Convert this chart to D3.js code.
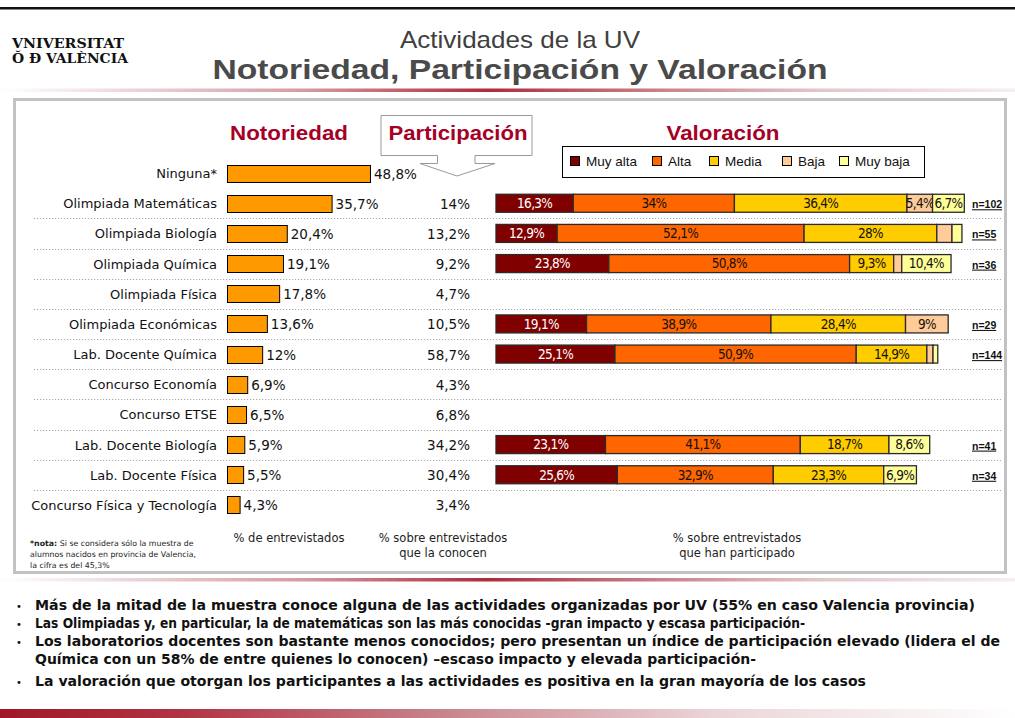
<!DOCTYPE html>
<html><head><meta charset="utf-8">
<script src="https://cdn.jsdelivr.net/npm/d3@7"></script>
<style>body{margin:0;background:#fff}svg{display:block}</style>
</head><body><svg id="c" width="1015" height="718"></svg>
<script>
// ---------- DATA ----------
const categories = ["Ninguna*","Olimpiada Matemáticas","Olimpiada Biología","Olimpiada Química","Olimpiada Física","Olimpiada Económicas","Lab. Docente Química","Concurso Economía","Concurso ETSE","Lab. Docente Biología","Lab. Docente Física","Concurso Física y Tecnología"];
const notoriedad = [48.8,35.7,20.4,19.1,17.8,13.6,12,6.9,6.5,5.9,5.5,4.3];
const participacion = [null,14,13.2,9.2,4.7,10.5,58.7,4.3,6.8,34.2,30.4,3.4];

const valCategories = ["Olimpiada Matemáticas","Olimpiada Biología","Olimpiada Química","Olimpiada Económicas","Lab. Docente Química","Lab. Docente Biología","Lab. Docente Física"];
const muyAlta = [16.3,12.9,23.8,19.1,25.1,23.1,25.6];
const alta    = [34,52.1,50.8,38.9,50.9,41.1,32.9];
const media   = [36.4,28,9.3,28.4,14.9,18.7,23.3];
const baja    = [5.4,3.2,1.7,9,1.3,0,0];
const muyBaja = [6.7,2.1,10.4,0,1.0,8.6,6.9];
const nValues = [102,55,36,29,144,41,34];

const levels = ["Muy alta","Alta","Media","Baja","Muy baja"];
const levelColors = ["#800000","#ff6600","#ffcc00","#ffcc99","#ffff99"];

const footerLabels = [["% de entrevistados"],["% sobre entrevistados","que la conocen"],["% sobre entrevistados","que han participado"]];
const noteLines = ["Si se considera sólo la muestra de","alumnos nacidos en provincia de Valencia,","la cifra es del 45,3%"];
const bullets = [
 ["Más de la mitad de la muestra conoce alguna de las actividades organizadas por UV (55% en caso Valencia provincia)"],
 ["Las Olimpiadas y, en particular, la de matemáticas son las más conocidas -gran impacto y escasa participación-"],
 ["Los laboratorios docentes son bastante menos conocidos; pero presentan un índice de participación elevado (lidera el de","Química con un 58% de entre quienes lo conocen) –escaso impacto y elevada participación-"],
 ["La valoración que otorgan los participantes a las actividades es positiva en la gran mayoría de los casos"]
];

// ---------- DRAW ----------
const svg = d3.select("#c");
const fmt = v => (Number.isInteger(v) ? String(v) : v.toFixed(1).replace(".", ",")) + "%";
const SANS = "'DejaVu Sans', Verdana, sans-serif";
const ARIAL = "'Liberation Sans', Arial, sans-serif";
const RED = "#a50026";

const defs = svg.append("defs");
const g1 = defs.append("linearGradient").attr("id","lineGrad");
[[0,"#ffffff"],[0.08,"#f3e6e8"],[0.3,"#d49aa2"],[0.48,"#b02a3a"],[0.6,"#c06a75"],[0.8,"#e2c4c8"],[1,"#f6eeef"]]
 .forEach(([o,c])=>g1.append("stop").attr("offset",o).attr("stop-color",c));
const g2 = defs.append("linearGradient").attr("id","barGrad");
[[0,"#a01828"],[0.18,"#b03444"],[0.45,"#c98890"],[0.7,"#ead4d7"],[1,"#ffffff"]]
 .forEach(([o,c])=>g2.append("stop").attr("offset",o).attr("stop-color",c));

// top rule
svg.append("rect").attr("x",0).attr("y",7).attr("width",1015).attr("height",2.5).attr("fill","#111");

// logo
svg.append("text").attr("x",12).attr("y",48).attr("font-family","'DejaVu Serif', serif").attr("font-weight","bold")
 .attr("font-size",12.5).attr("textLength",112).attr("lengthAdjust","spacingAndGlyphs").attr("fill","#111").text("VNIVERSITAT");
svg.append("text").attr("x",12).attr("y",63).attr("font-family","'DejaVu Serif', serif").attr("font-weight","bold")
 .attr("font-size",12.5).attr("textLength",116).attr("lengthAdjust","spacingAndGlyphs").attr("fill","#111").text("Ŏ Ð VALÈNCIA");

// titles
svg.append("text").attr("x",520).attr("y",48).attr("text-anchor","middle").attr("font-family",ARIAL)
 .attr("font-size",24).attr("fill","#404040").attr("textLength",240).attr("lengthAdjust","spacingAndGlyphs").text("Actividades de la UV");
svg.append("text").attr("x",520).attr("y",79).attr("text-anchor","middle").attr("font-family",ARIAL)
 .attr("font-weight","bold").attr("font-size",28).attr("fill","#4a4a4a").attr("textLength",615).attr("lengthAdjust","spacingAndGlyphs")
 .text("Notoriedad, Participación y Valoración");

// gradient rules
svg.append("rect").attr("x",0).attr("y",88.5).attr("width",1015).attr("height",3.5).attr("fill","url(#lineGrad)");
svg.append("rect").attr("x",0).attr("y",578).attr("width",1015).attr("height",3.5).attr("fill","url(#lineGrad)");
svg.append("rect").attr("x",0).attr("y",709).attr("width",1015).attr("height",9).attr("fill","url(#barGrad)");

// frame
svg.append("rect").attr("x",14.5).attr("y",99.5).attr("width",991).attr("height",473)
 .attr("fill","#fff").attr("stroke","#c2c2c2").attr("stroke-width",3);

// section headers
const hdr = (x,t,w)=>svg.append("text").attr("x",x).attr("y",140).attr("text-anchor","middle").attr("font-family",ARIAL)
 .attr("font-weight","bold").attr("font-size",21).attr("fill",RED).attr("textLength",w).attr("lengthAdjust","spacingAndGlyphs").text(t);
hdr(289,"Notoriedad",118);
svg.append("path").attr("d","M381,115.5H532V155.5H475V163.5H495L457,176L420,163.5H437.5V155.5H381Z")
 .attr("fill","#fff").attr("stroke","#9a9a9a").attr("stroke-width",1);
hdr(458,"Participación",139);
hdr(723,"Valoración",113);

// legend
const lg = svg.append("g");
lg.append("rect").attr("x",562.5).attr("y",146.5).attr("width",362).attr("height",31).attr("fill","#fff").attr("stroke","#000");
const legX = [570,652,709,782,839];
levels.forEach((l,i)=>{
  lg.append("rect").attr("x",legX[i]+0.5).attr("y",156.5).attr("width",9).attr("height",9).attr("fill",levelColors[i]).attr("stroke","#000");
  lg.append("text").attr("x",legX[i]+16).attr("y",166).attr("font-family",ARIAL).attr("font-size",13.5).attr("fill","#111").text(l);
});

// scales
const y = d3.scaleBand().domain(categories).range([158,520]);
const xN = d3.scaleLinear().domain([0,100]).range([227,520]);
const xV = d3.scaleLinear().domain([0,100]).range([496,970]);
const cy = c => y(c) + y.bandwidth()/2;

// dotted separators
categories.slice(1, categories.length-1).forEach(c=>{
  const yy = Math.round(y(c)+y.bandwidth()) + 0.5;
  svg.append("line").attr("x1",34).attr("x2",1001).attr("y1",yy).attr("y2",yy)
   .attr("stroke","#a8a8a8").attr("stroke-width",1.2).attr("stroke-dasharray","1.2,1.8");
});

// category labels
svg.append("g").selectAll("text").data(categories).join("text")
 .attr("x",217).attr("y",c=>cy(c)+5).attr("text-anchor","end")
 .attr("font-family",SANS).attr("font-size",13).attr("fill","#111").text(c=>c);

// notoriedad bars
svg.append("g").selectAll("rect").data(notoriedad).join("rect")
 .attr("x",xN(0)+0.5).attr("y",(d,i)=>Math.round(cy(categories[i])-8.5)+0.5)
 .attr("width",d=>xN(d)-xN(0)).attr("height",17)
 .attr("fill","#ff9900").attr("stroke","#000").attr("stroke-width",1);
svg.append("g").selectAll("text").data(notoriedad).join("text")
 .attr("x",d=>xN(d)+4).attr("y",(d,i)=>cy(categories[i])+5.5)
 .attr("font-family",SANS).attr("font-size",13.5).attr("fill","#111").text(d=>fmt(d));

// participacion values
svg.append("g").selectAll("text").data(participacion.map((v,i)=>({v,c:categories[i]})).filter(d=>d.v!=null)).join("text")
 .attr("x",470).attr("y",d=>cy(d.c)+5.5).attr("text-anchor","end")
 .attr("font-family",SANS).attr("font-size",13.5).attr("fill","#111").text(d=>fmt(d.v));

// valoracion stacked bars
const table = valCategories.map((c,i)=>({cat:c,"Muy alta":muyAlta[i],"Alta":alta[i],"Media":media[i],"Baja":baja[i],"Muy baja":muyBaja[i]}));
const series = d3.stack().keys(levels)(table);
const vg = svg.append("g");
series.forEach((s,k)=>{
  s.forEach(seg=>{
    const v = seg[1]-seg[0];
    if (v <= 0) return;
    const c = seg.data.cat, yc = cy(c);
    vg.append("rect").attr("x",xV(seg[0])).attr("y",yc-9).attr("width",xV(seg[1])-xV(seg[0])).attr("height",18)
      .attr("fill",levelColors[k]).attr("stroke","#2a2a2a").attr("stroke-width",1.3);
    if (v >= 5) {
      vg.append("text").attr("x",(xV(seg[0])+xV(seg[1]))/2).attr("y",yc+4.8).attr("text-anchor","middle")
        .attr("font-family","'DejaVu Sans Condensed', 'DejaVu Sans', sans-serif").attr("font-size",13.5)
        .attr("letter-spacing",-0.7).attr("fill",k===0?"#fff":"#111").text(fmt(v));
    }
  });
});
// n labels
svg.append("g").selectAll("text").data(valCategories).join("text")
 .attr("x",972).attr("y",(c)=>cy(c)+5).attr("font-family",ARIAL)
 .attr("font-weight","bold").attr("font-size",10.5).attr("fill","#111").attr("text-decoration","underline")
 .text((c,i)=>"n="+nValues[i]);

// footer labels
const fx = [289,443,737];
footerLabels.forEach((lines,i)=>{
  lines.forEach((t,j)=>{
    svg.append("text").attr("x",fx[i]).attr("y",542+j*15).attr("text-anchor","middle")
     .attr("font-family",SANS).attr("font-size",11.5).attr("fill","#222").text(t);
  });
});
// note
const nt = svg.append("text").attr("x",30).attr("y",546).attr("font-family",SANS).attr("font-size",7.8).attr("fill","#222");
nt.append("tspan").attr("font-weight","bold").text("*nota: ");
nt.append("tspan").text(noteLines[0]);
noteLines.slice(1).forEach((t,j)=>{
  svg.append("text").attr("x",30).attr("y",557+j*11).attr("font-family",SANS).attr("font-size",7.8).attr("fill","#222").text(t);
});

// bullets
const bY = [610,628,646,664,686];
const bW = [940,770,965,721,831];
let li = 0;
bullets.forEach((b)=>{
  svg.append("text").attr("x",16).attr("y",bY[li]).attr("font-family",SANS).attr("font-size",10).attr("fill","#111").text("•");
  b.forEach((t)=>{
    svg.append("text").attr("x",35).attr("y",bY[li]).attr("font-family",SANS).attr("font-weight","bold")
     .attr("font-size",13.6).attr("fill","#111").attr("textLength",bW[li]).attr("lengthAdjust","spacingAndGlyphs").text(t);
    li++;
  });
});
</script></body></html>
